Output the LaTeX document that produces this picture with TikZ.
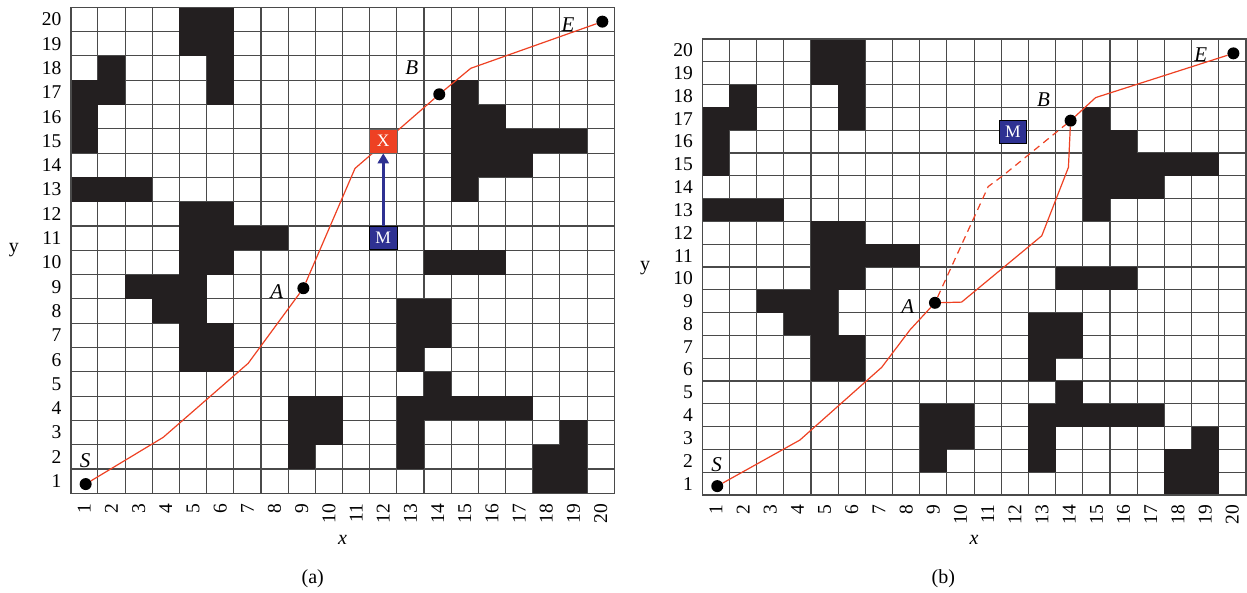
\documentclass[tikz,border=0pt]{standalone}
\usepackage{fontspec}
\setmainfont{Liberation Serif}
\usetikzlibrary{arrows.meta, positioning}

\definecolor{wallgray}{HTML}{231F20}
\definecolor{routered}{HTML}{EE4123}
\definecolor{mblue}{HTML}{2E3192}
\definecolor{gridgray}{HTML}{4A4A4A}

% occupied cells, column/row (row 1 at the bottom)
\newcommand{\wallcells}{5/20,6/20,5/19,6/19,2/18,6/18,1/17,2/17,6/17,15/17,1/16,15/16,16/16,1/15,15/15,16/15,17/15,18/15,19/15,15/14,16/14,17/14,1/13,2/13,3/13,15/13,5/12,6/12,5/11,6/11,7/11,8/11,5/10,6/10,14/10,15/10,16/10,3/9,4/9,5/9,4/8,5/8,13/8,14/8,5/7,6/7,13/7,14/7,5/6,6/6,13/6,14/5,9/4,10/4,13/4,14/4,15/4,16/4,17/4,9/3,10/3,13/3,19/3,9/2,13/2,18/2,19/2,18/1,19/1}

\begin{document}
\begin{tikzpicture}[x=1pt, y=-1pt,
  panel a/.style={shift={(57.11,505.45)}, x=27.18pt, y=24.3pt},
  panel b/.style={shift={(688.71,506.4)}, x=27.18pt, y=22.8pt},
  gridline/.style={gridgray, line width=1.1pt},
  border/.style={gridgray, line width=1.6pt},
  tick/.style={inner sep=0pt, font=\fontsize{19.5}{20}\selectfont},
  axislabel/.style={inner sep=0pt, font=\fontsize{20}{21}\selectfont},
  ptlabel/.style={inner sep=0pt, font=\fontsize{21}{22}\selectfont\itshape},
  dot/.style={circle, fill=black, inner sep=0pt, minimum size=12pt},
  route/.style={routered, line width=1.2pt, line join=round},
  xbox/.style={draw=black!60, fill=routered, text=white, line width=0.8pt, inner sep=0pt, minimum width=27.5pt, minimum height=24pt, font=\fontsize{17.5}{18}\selectfont},
  mbox/.style={draw=black, fill=mblue, text=white, line width=0.8pt, inner sep=0pt, minimum width=27.5pt, minimum height=23pt, font=\fontsize{17.5}{18}\selectfont},
  moveto/.style={mblue, line width=3.5pt, -{Triangle[length=10pt, width=11pt]}}]
\useasboundingbox (0,0) rectangle (1247,592);

% both maps: cells, walls, numbering
\foreach \p in {a,b} {
  \begin{scope}[panel \p]
    \fill[white] (0.5,0.5) rectangle (20.5,20.5);
    \foreach \i in {1,...,19} {
      \draw[gridline] (\i+0.5,0.5) -- (\i+0.5,20.5);
      \draw[gridline] (0.5,\i+0.5) -- (20.5,\i+0.5);
    }
    \foreach \c/\r in \wallcells
      \fill[wallgray] (\c-0.5,\r-0.5) rectangle (\c+0.5,\r+0.5);
    \draw[border] (0.5,0.5) rectangle (20.5,20.5);
    \foreach \n in {1,...,20} {
      \node[tick, anchor=east] (\p y\n) at (0.16,\n) {\n};
      \node[tick, rotate=90, anchor=east] (\p x\n) at (\n,0.08) {\n};
    }
  \end{scope}
}

% axis names and captions
\node[axislabel] (axname) at (342.5,540) {\textit{x}};
\node[axislabel] (ayname) at (14,250) {y};
\node[axislabel] (acap) at (312.7,579) {(a)};
\node[axislabel] (bxname) at (974,540) {\textit{x}};
\node[axislabel] (byname) at (645,268) {y};
\node[axislabel] (bcap) at (943.3,579) {(b)};

% (a) planned route, obstacle X found ahead of M
\begin{scope}[panel a]
  \node[dot] (aS) at (1.05,0.88) {};
  \node[dot] (aA) at (9.06,8.94) {};
  \node[dot] (aB) at (14.06,16.92) {};
  \node[dot] (aE) at (20.06,19.91) {};
  \coordinate (a1) at (3.9,2.8);
  \coordinate (a2) at (7.03,5.85);
  \coordinate (a3) at (10.96,13.87);
  \coordinate (a4) at (11.57,14.46);
  \coordinate (a5) at (12.55,15.45);
  \coordinate (a6) at (15.22,17.99);
  \draw[route] (aS) -- (a1) -- (a2) -- (aA) -- (a3) -- (a4) -- (a5) -- (aB) -- (a6) -- (aE);
  \node[ptlabel] (aSl) at (1.03,1.84) {S};
  \node[ptlabel] (aAl) at (8.08,8.8) {A};
  \node[ptlabel] (aBl) at (13.05,18.0) {B};
  \node[ptlabel] (aEl) at (18.8,19.8) {E};
  \node[xbox] (aX) at (12,15) {X};
  \node[mbox] (aM) at (12,11) {M};
  \draw[moveto] (aM) -- (aX);
\end{scope}

% (b) replanned route from A to B
\begin{scope}[panel b]
  \node[dot] (bS) at (1.05,0.89) {};
  \node[dot] (bA) at (9.06,8.93) {};
  \node[dot] (bB) at (14.05,16.92) {};
  \node[dot] (bE) at (20.04,19.87) {};
  \coordinate (b1) at (4.09,2.91);
  \coordinate (b2) at (7.1,6.1);
  \coordinate (b3) at (8.14,7.74);
  \coordinate (b4) at (10.04,8.96);
  \coordinate (b5) at (12.99,11.87);
  \coordinate (b6) at (13.97,14.87);
  \coordinate (b7) at (14.97,17.93);
  \coordinate (b8) at (11.02,14.03);
  \coordinate (b9) at (11.52,14.47);
  \draw[route] (bS) -- (b1) -- (b2) -- (b3) -- (bA) -- (b4) -- (b5) -- (b6) -- (bB) -- (b7) -- (bE);
  \draw[route, dash pattern=on 7pt off 5pt] (bA) -- (b8) -- (b9) -- (bB);
  \node[ptlabel] (bSl) at (1.03,1.82) {S};
  \node[ptlabel] (bAl) at (8.06,8.76) {A};
  \node[ptlabel] (bBl) at (13.05,17.82) {B};
  \node[ptlabel] (bEl) at (18.84,19.8) {E};
  \node[mbox] (bM) at (11.93,16.42) {M};
\end{scope}
\end{tikzpicture}
\end{document}
